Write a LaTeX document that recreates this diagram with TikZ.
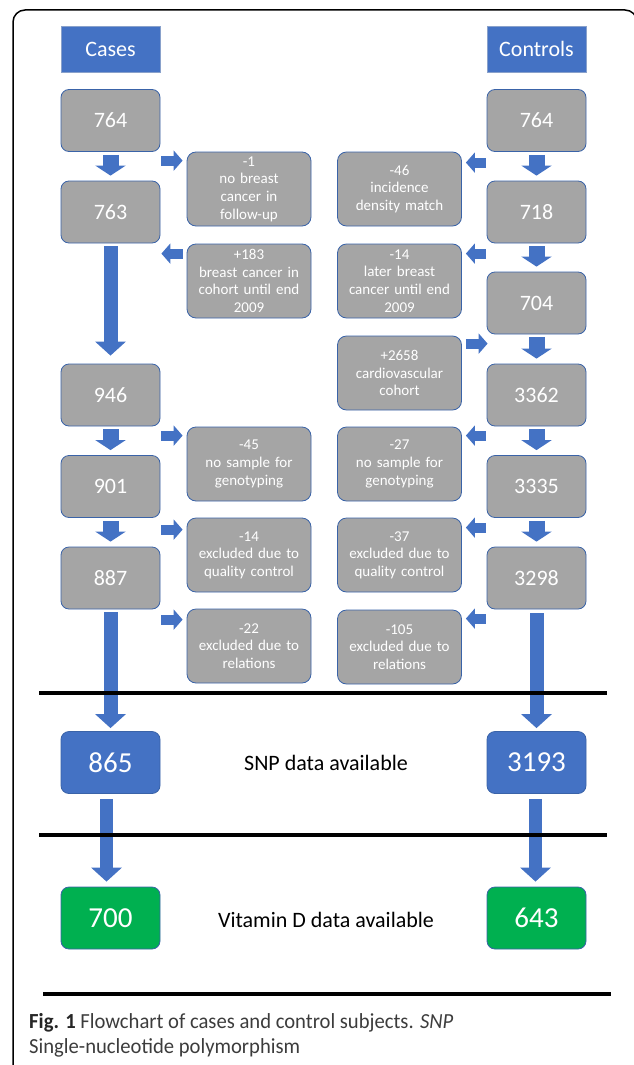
\documentclass[tikz,border=0pt]{standalone}
\usepackage{fontspec}
\setmainfont{Carlito}
\usetikzlibrary{arrows.meta}

\definecolor{fillblue}{HTML}{4472C4}
\definecolor{fillgray}{HTML}{A5A5A5}
\definecolor{fillgreen}{HTML}{00B050}
\definecolor{lineblue}{HTML}{3A63A8}
\definecolor{capgray}{HTML}{3C3C3C}

\begin{document}
\begin{tikzpicture}[x=1pt, y=-1pt,
    count/.style={rectangle, rounded corners=8pt, draw=lineblue, line width=0.8pt, fill=#1, minimum width=99pt, minimum height=62pt, inner sep=0pt, text=white, font=\fontsize{22}{26}\selectfont},
    count/.default=fillgray,
    bigcount/.style={count=#1, font=\fontsize{29}{33}\selectfont},
    head/.style={rectangle, draw=lineblue!60, fill=fillblue, minimum width=99pt, minimum height=46pt, inner sep=0pt, text=white, font=\fontsize{22}{26}\selectfont},
    note/.style={rectangle, rounded corners=9pt, draw=lineblue, line width=0.8pt, fill=fillgray, minimum width=124pt, minimum height=74pt, text width=120pt, inner sep=2pt, align=center, text=white, font=\fontsize{15}{17.6}\selectfont},
    stage/.style={font=\fontsize{22}{26}\selectfont},
    downarrow/.style={-{Triangle[width=30pt, length=10pt]}, line width=16pt, fillblue},
    longarrow/.style={-{Triangle[width=30pt, length=14pt]}, line width=14pt, fillblue},
    sidearrow/.style={-{Triangle[width=20pt, length=9pt]}, line width=10pt, fillblue},
    rule/.style={line width=4.5pt, black},
    caption/.style={anchor=base west, inner sep=0pt, text=capgray, font=\fontsize{21.5}{25}\selectfont}
]
    \useasboundingbox (0,0) rectangle (634,1065);

    % Cadre
    \draw[line width=1.5pt, rounded corners=12pt] (13,1066) -- (13,10) -- (637,10) -- (637,40);

    % En-tetes
    \node[head] (hcase) at (110.5,49) {Cases};
    \node[head] (hctrl) at (536.5,49) {Controls};

    % Cas
    \node[count] (case1) at (110.5,120.5) {764};
    \node[count] (case2) at (110.5,212) {763};
    \node[count] (case3) at (110.5,395) {946};
    \node[count] (case4) at (110.5,486.5) {901};
    \node[count] (case5) at (110.5,578) {887};
    \node[bigcount=fillblue] (caseSNP) at (110.5,762.5) {865};
    \node[bigcount=fillgreen] (caseVD) at (110.5,918) {700};

    \node[note] (cnote1) at (249,189) {-1\\no breast\\cancer in\\follow-up};
    \node[note] (cnote2) at (249,281) {+183\\breast cancer in\\cohort until end\\2009};
    \node[note] (cnote3) at (249,464) {-45\\no sample for\\genotyping};
    \node[note] (cnote4) at (249,555) {-14\\excluded due to\\quality control};
    \node[note] (cnote5) at (249,646) {-22\\excluded due to\\relations};

    % Temoins
    \node[count] (ctrl1) at (536.5,120.5) {764};
    \node[count] (ctrl2) at (536.5,212) {718};
    \node[count] (ctrl3) at (536.5,303) {704};
    \node[count] (ctrl4) at (536.5,395) {3362};
    \node[count] (ctrl5) at (536.5,486.5) {3335};
    \node[count] (ctrl6) at (536.5,578) {3298};
    \node[bigcount=fillblue] (ctrlSNP) at (536.5,762.5) {3193};
    \node[bigcount=fillgreen] (ctrlVD) at (536.5,918) {643};

    \node[note] (knote1) at (399.5,189) {-46\\incidence\\density match};
    \node[note] (knote2) at (399.5,281) {-14\\later breast\\cancer until end\\2009};
    \node[note] (knote3) at (399.5,373) {+2658\\cardiovascular\\cohort};
    \node[note] (knote4) at (399.5,464) {-27\\no sample for\\genotyping};
    \node[note] (knote5) at (399.5,555) {-37\\excluded due to\\quality control};
    \node[note] (knote6) at (399.5,647) {-105\\excluded due to\\relations};

    % Niveaux
    \node[stage] (snp) at (326,763) {SNP data available};
    \node[stage] (vitd) at (326,920) {Vitamin D data available};

    % Fleches verticales
    \foreach \a/\b in {case1/case2, case3/case4, case4/case5, ctrl1/ctrl2, ctrl2/ctrl3, ctrl3/ctrl4, ctrl4/ctrl5, ctrl5/ctrl6}
        \draw[downarrow, shorten <=3pt, shorten >=5pt] (\a) -- (\b);

    \draw[longarrow, shorten <=3pt, shorten >=8pt] (case2) -- (case3);
    \draw[longarrow, shorten <=3pt, shorten >=3pt] (case5) -- (caseSNP);
    \draw[longarrow, line width=13pt, shorten <=5pt, shorten >=5pt] ([xshift=-4pt]caseSNP.south) -- ([xshift=-4pt]caseVD.north);
    \draw[longarrow, shorten <=4pt, shorten >=3pt] (ctrl6) -- (ctrlSNP);
    \draw[longarrow, line width=13pt, shorten <=5pt, shorten >=5pt] ([xshift=-1pt]ctrlSNP.south) -- ([xshift=-1pt]ctrlVD.north);

    % Fleches laterales
    \foreach \n/\d in {cnote1/9pt, cnote3/9pt, cnote4/12pt, cnote5/11pt}
        \draw[sidearrow, shorten <=1pt, shorten >=4pt] ([yshift=-\d]\n.north west -| case1.east) -- ([yshift=-\d]\n.north west);
    \draw[sidearrow, shorten <=4pt, shorten >=1pt] ([yshift=-10pt]cnote2.north west) -- ([yshift=-10pt]cnote2.north west -| case2.east);
    \foreach \n/\d in {knote1/11pt, knote2/10pt, knote4/9pt, knote5/10pt, knote6/9pt}
        \draw[sidearrow, shorten <=1pt, shorten >=4pt] ([yshift=-\d]\n.north east -| ctrl1.west) -- ([yshift=-\d]\n.north east);
    \draw[sidearrow, shorten <=4pt, shorten >=-1pt] ([yshift=-8pt]knote3.north east) -- ([yshift=-8pt]knote3.north east -| ctrl3.west);

    % Lignes
    \draw[rule] (39,693) -- (607,693);
    \draw[rule] (39,835) -- (607,835);
    \draw[rule] (43,994) -- (611,994);

    % Legende
    \node[caption] (cap1) at (29,1028) {\scalebox{0.96}[1]{{\bfseries\color{black!85}Fig. 1} Flowchart of cases and control subjects. \textit{SNP}}};
    \node[caption] (cap2) at (29,1053) {\scalebox{0.96}[1]{Single-nucleotide polymorphism}};
\end{tikzpicture}
\end{document}
